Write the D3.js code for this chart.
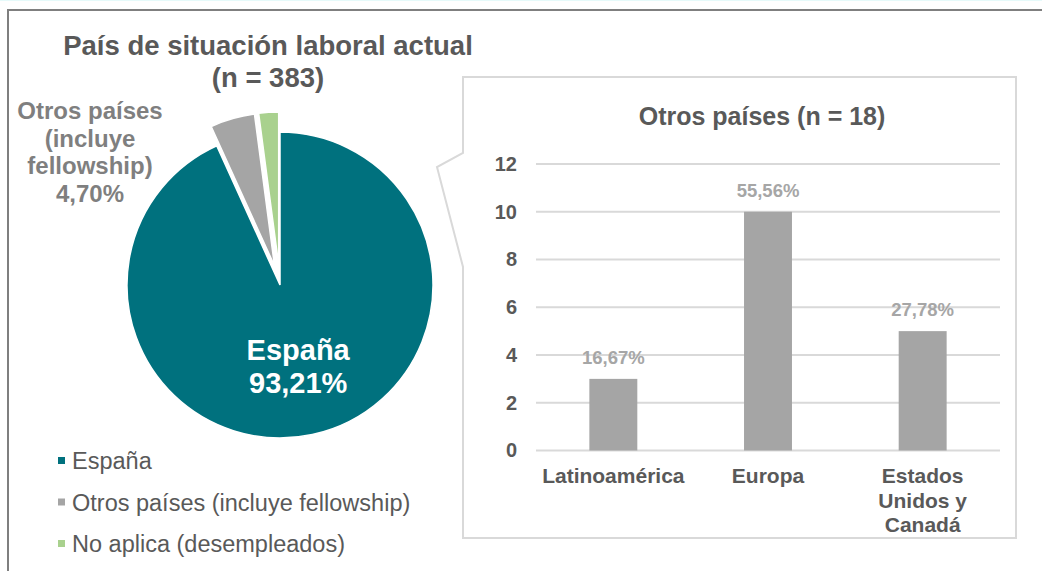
<!DOCTYPE html>
<html>
<head>
<meta charset="utf-8">
<script src="https://cdn.jsdelivr.net/npm/d3@7"></script>
<style>
  html, body { margin: 0; padding: 0; background: #fff; }
  svg { display: block; font-family: "Liberation Sans", Arial, sans-serif; }
</style>
</head>
<body>
<svg id="chart" width="1042" height="571"></svg>
<script>
// ---- Data ----
const pieCategories = ["España", "Otros países (incluye fellowship)", "No aplica (desempleados)"];
const pieValues = [93.21, 4.70, 2.09];
const pieColors = ["#00717E", "#A5A5A5", "#A9D18E"];
const pieTitleLines = ["País de situación laboral actual", "(n = 383)"];
const pieOtherLabelLines = ["Otros países", "(incluye", "fellowship)", "4,70%"];
const pieMainLabelLines = ["España", "93,21%"];

const barTitle = "Otros países (n = 18)";
const barCategories = ["Latinoamérica", "Europa", "Estados Unidos y Canadá"];
const barCategoryLines = [["Latinoamérica"], ["Europa"], ["Estados", "Unidos y", "Canadá"]];
const barValues = [3, 10, 5];
const barLabels = ["16,67%", "55,56%", "27,78%"];
const yTicks = [0, 2, 4, 6, 8, 10, 12];

// ---- Styles ----
const darkText = "#595959";
const svg = d3.select("#chart");

// faint top line and outer frame
svg.append("line").attr("x1", 0).attr("x2", 1042).attr("y1", 0.5).attr("y2", 0.5)
  .attr("stroke", "#E6FAFA").attr("stroke-width", 1);
svg.append("rect").attr("x", 8).attr("y", 10).attr("width", 1100).attr("height", 700)
  .attr("fill", "none").attr("stroke", "#7F7F7F").attr("stroke-width", 2);

// ---- Pie ----
const cx = 280, cy = 285, R = 153, explode = 20;
const pie = d3.pie().sort(null).value(d => d)(pieValues);
const arc = d3.arc().innerRadius(0).outerRadius(R);
const pg = svg.append("g").attr("transform", `translate(${cx},${cy})`);
pg.selectAll("path").data(pie).join("path")
  .attr("d", arc)
  .attr("fill", (d, i) => pieColors[i])
  .attr("stroke", "#fff").attr("stroke-width", 1.5)
  .attr("transform", (d, i) => {
    if (i === 0) return null;
    const a = (d.startAngle + d.endAngle) / 2;
    return `translate(${explode * Math.sin(a)},${-explode * Math.cos(a)})`;
  });

// pie title
const tt = svg.append("text").attr("text-anchor", "middle").attr("fill", darkText)
  .attr("font-size", 27.5).attr("font-weight", "bold");
pieTitleLines.forEach((t, i) => tt.append("tspan").attr("x", 268).attr("y", 55 + i * 32).text(t));

// "Otros países" label outside
const ol = svg.append("text").attr("text-anchor", "middle").attr("fill", "#7F7F7F")
  .attr("font-size", 24).attr("font-weight", "bold");
pieOtherLabelLines.forEach((t, i) => ol.append("tspan").attr("x", 90).attr("y", 119 + i * 27.7).text(t));

// España label inside, at slice centroid
const c0 = arc.centroid(pie[0]);
const ml = svg.append("text").attr("text-anchor", "middle").attr("fill", "#fff")
  .attr("font-size", 29).attr("font-weight", "bold");
pieMainLabelLines.forEach((t, i) => ml.append("tspan").attr("x", cx + c0[0] + 2).attr("y", cy + c0[1] + i * 33).text(t));

// legend
const lg = svg.append("g");
pieCategories.forEach((c, i) => {
  const y = 469 + i * 41.5;
  lg.append("rect").attr("x", 58).attr("y", y - 12).attr("width", 7).attr("height", 7).attr("fill", pieColors[i]);
  lg.append("text").attr("x", 72).attr("y", y).attr("fill", darkText).attr("font-size", 23.5).text(c);
});

// ---- Callout box ----
svg.append("path")
  .attr("d", "M463,77 L1016,77 L1016,538 L463,538 L463,267 L437,167 L463,153 Z")
  .attr("fill", "#fff").attr("stroke", "#D9D9D9").attr("stroke-width", 2);

// ---- Bar chart ----
const x = d3.scaleBand().domain(barCategories).range([536, 1000]).paddingInner(0.69).paddingOuter(0.345);
const y = d3.scaleLinear().domain([0, 12]).range([450.5, 164]);

svg.append("text").attr("x", 762).attr("y", 125).attr("text-anchor", "middle")
  .attr("fill", darkText).attr("font-size", 25).attr("font-weight", "bold").text(barTitle);

// gridlines
svg.append("g").selectAll("line").data(yTicks).join("line")
  .attr("x1", 536).attr("x2", 1000)
  .attr("y1", d => y(d)).attr("y2", d => y(d))
  .attr("stroke", "#D9D9D9").attr("stroke-width", 2);

// y axis
const ya = svg.append("g").attr("transform", "translate(521,0)")
  .call(d3.axisLeft(y).tickValues(yTicks).tickSize(0).tickPadding(4));
ya.select(".domain").remove();
ya.selectAll("text").attr("fill", darkText).attr("font-size", 20).attr("font-weight", "bold")
  .attr("font-family", '"Liberation Sans", Arial, sans-serif');

// bars
svg.append("g").selectAll("rect").data(barValues).join("rect")
  .attr("x", (d, i) => x(barCategories[i]))
  .attr("y", d => y(d))
  .attr("width", x.bandwidth())
  .attr("height", d => y(0) - y(d))
  .attr("fill", "#A5A5A5");

// data labels
svg.append("g").selectAll("text").data(barValues).join("text")
  .attr("x", (d, i) => x(barCategories[i]) + x.bandwidth() / 2)
  .attr("y", d => y(d) - 15)
  .attr("text-anchor", "middle").attr("fill", "#A6A6A6")
  .attr("font-size", 18.5).attr("font-weight", "bold")
  .text((d, i) => barLabels[i]);

// category labels
barCategoryLines.forEach((lines, i) => {
  const t = svg.append("text").attr("text-anchor", "middle").attr("fill", darkText)
    .attr("font-size", 21).attr("font-weight", "bold");
  lines.forEach((l, j) => t.append("tspan")
    .attr("x", x(barCategories[i]) + x.bandwidth() / 2)
    .attr("y", 483 + j * 24.5).text(l));
});
</script>
</body>
</html>
